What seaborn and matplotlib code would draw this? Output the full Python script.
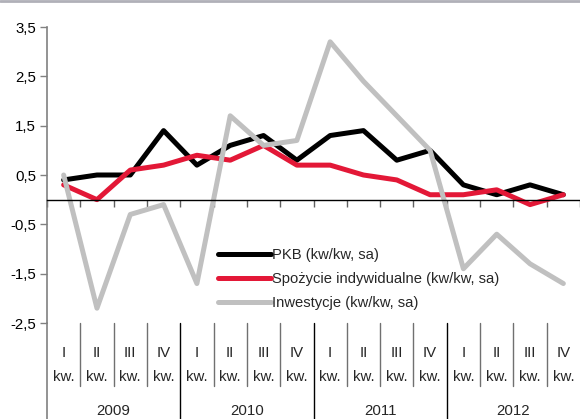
import numpy as np
import pandas as pd
import seaborn as sns
import matplotlib
matplotlib.use("Agg")
import matplotlib.pyplot as plt
from matplotlib.lines import Line2D
import matplotlib.transforms as mtransforms

# ---- data ----
years = ["2009", "2010", "2011", "2012"]
quarters = ["I", "II", "III", "IV"]
pkb = [0.4, 0.5, 0.5, 1.4, 0.7, 1.1, 1.3, 0.8, 1.3, 1.4, 0.8, 1.0, 0.3, 0.1, 0.3, 0.1]
spozycie = [0.3, 0.0, 0.6, 0.7, 0.9, 0.8, 1.1, 0.7, 0.7, 0.5, 0.4, 0.1, 0.1, 0.2, -0.1, 0.1]
inwestycje = [0.5, -2.2, -0.3, -0.1, -1.7, 1.7, 1.1, 1.2, 3.2, 2.4, 1.7, 1.0, -1.4, -0.7, -1.3, -1.7]
series_names = ["PKB (kw/kw, sa)", "Spożycie indywidualne (kw/kw, sa)", "Inwestycje (kw/kw, sa)"]
colors = ["#000000", "#E31837", "#C0C0C0"]
yticks = [3.5, 2.5, 1.5, 0.5, -0.5, -1.5, -2.5]

n = len(pkb)
idx = np.arange(n)
df = pd.DataFrame({
    "x": np.concatenate([idx, idx, idx]),
    "value": pkb + spozycie + inwestycje,
    "series": [series_names[0]] * n + [series_names[1]] * n + [series_names[2]] * n,
})

sns.set_theme(style="white")
plt.rcParams["font.family"] = ["Liberation Sans", "DejaVu Sans"]

W, H = 580, 419
fig = plt.figure(figsize=(W / 100, H / 100), dpi=100)
left, right, top, bottom = 47, 580, 27, 323
ax = fig.add_axes([left / W, 1 - bottom / H, (right - left) / W, (bottom - top) / H])

sns.lineplot(data=df, x="x", y="value", hue="series", hue_order=series_names,
             palette=colors, linewidth=3.6, ax=ax, legend=False, sort=False)

ax.set_xlim(-0.5, n - 0.5)
ax.set_ylim(-2.5, 3.5)
ax.set_xlabel("")
ax.set_ylabel("")

# y axis
ax.set_yticks(yticks)
ax.set_yticklabels([f"{v:.1f}".replace(".", ",") for v in yticks], fontsize=10.8, color="#000000")
ax.tick_params(axis="y", direction="out", length=5, width=1, color="#808080", pad=3, left=True)
for s in ["top", "right"]:
    ax.spines[s].set_visible(False)
ax.spines["left"].set_color("#808080")
ax.spines["left"].set_linewidth(1.2)

# x axis at zero
ax.spines["bottom"].set_position(("data", 0))
ax.spines["bottom"].set_color("#000000")
ax.spines["bottom"].set_linewidth(1.0)
ax.set_xticks(np.arange(n + 1) - 0.5)
ax.set_xticklabels([])
ax.tick_params(axis="x", direction="out", length=5, width=1, color="#606060", bottom=True)

# category table below the plot
trans = mtransforms.blended_transform_factory(ax.transData, ax.transAxes)
h = bottom - top
q_bot = -(386 - bottom) / h
y_bot = -(419 - bottom) / h
for i in range(1, n):
    if i % 4 == 0:
        ax.plot([i - 0.5, i - 0.5], [0, y_bot], transform=trans, color="#000000", lw=1.0, clip_on=False)
    else:
        ax.plot([i - 0.5, i - 0.5], [0, q_bot], transform=trans, color="#707070", lw=1.0, clip_on=False)
ax.plot([-0.5, -0.5], [0, y_bot], transform=trans, color="#808080", lw=1.2, clip_on=False)

for i in range(n):
    ax.text(i, -(353 - bottom) / h, quarters[i % 4], transform=trans, ha="center", va="center", fontsize=10.8)
    ax.text(i, -(377 - bottom) / h, "kw.", transform=trans, ha="center", va="center", fontsize=10.8)
for j, yr in enumerate(years):
    ax.text(j * 4 + 1.5, -(411 - bottom) / h, yr, transform=trans, ha="center", va="center", fontsize=10.8)

# legend
handles = [Line2D([0], [0], color=c, lw=3.6) for c in colors]
ax.legend(handles, series_names, loc="upper left",
          bbox_to_anchor=((218 - left) / (right - left), (bottom - 248) / h),
          frameon=False, fontsize=10.6, handlelength=3.6, handletextpad=0.1,
          labelspacing=0.68, borderpad=0, borderaxespad=0)

# top border line
fig.add_artist(Line2D([0, 1], [1 - 1 / H, 1 - 1 / H], transform=fig.transFigure, color="#B0B0B8", lw=2))

fig.savefig("out.png", dpi=100)
